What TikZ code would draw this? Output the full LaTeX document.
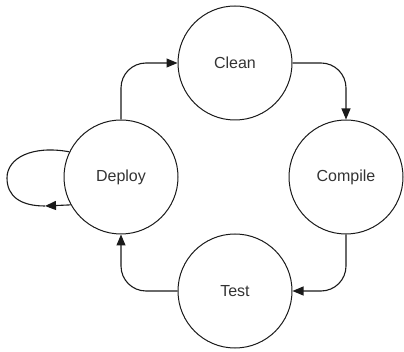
\documentclass[tikz,border=0pt]{standalone}
\usepackage{fontspec}
\setmainfont{Liberation Sans}
\usetikzlibrary{arrows.meta}
\definecolor{linegray}{HTML}{1A1A1A}
\definecolor{textgray}{HTML}{333333}
\tikzset{
  state/.style={circle, draw=linegray, line width=1pt, minimum size=114pt, inner sep=0pt,
    font=\fontsize{16}{19}\selectfont, text=textgray},
  conn/.style={draw=linegray, line width=1.1pt, -{Triangle[length=11pt,width=9pt]}, rounded corners=25pt},
  plain/.style={draw=linegray, line width=1.1pt}
}
\begin{document}
\begin{tikzpicture}[x=1pt,y=-1pt]
\useasboundingbox (0,0) rectangle (404,352);
\node[state] (clean) at (235,63) {Clean};
\node[state] (compile) at (346,177) {Compile};
\node[state] (test) at (235,291) {Test};
\node[state] (deploy) at (121,177) {Deploy};
\draw[conn] (deploy.north) |- (clean.west);
\draw[conn] (clean.east) -| (compile.north);
\draw[conn] (compile.south) |- (test.east);
\draw[conn] (test.west) -| (deploy.south);
\coordinate (la) at (45,206);
\draw[conn] (deploy.209) -- (la);
\draw[plain] (la) .. controls (20,206) and (7,196) .. (7,178)
  .. controls (7,158) and (32,145) .. (deploy.154);
\end{tikzpicture}
\end{document}
